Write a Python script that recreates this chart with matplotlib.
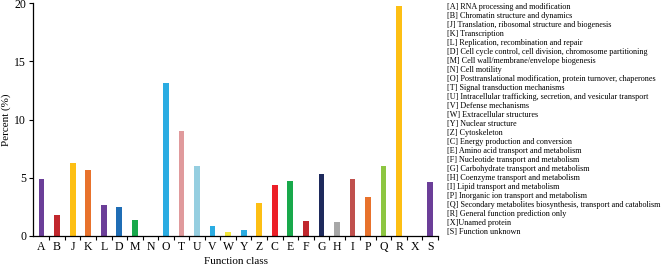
import numpy as np
import matplotlib
matplotlib.use("Agg")
import matplotlib.pyplot as plt

plt.rcParams['font.family'] = ['Liberation Serif', 'DejaVu Serif']

# ========== DATA ==========
classes = ["A", "B", "J", "K", "L", "D", "M", "N", "O", "T", "U", "V",
           "W", "Y", "Z", "C", "E", "F", "G", "H", "I", "P", "Q", "R", "X", "S"]
percent = [4.89, 1.81, 6.24, 5.66, 2.62, 2.50, 1.35, 0.0, 13.14, 9.00, 5.98, 0.81,
           0.29, 0.49, 2.82, 4.37, 4.69, 1.27, 5.32, 1.21, 4.86, 3.31, 6.03, 19.8, 0.0, 4.66]
colors = ["#6b3e98", "#c1272d", "#fdbf14", "#e8722c", "#6b3e98", "#1f6db5", "#18a94b",
          "#ffffff", "#2aace2", "#e09a9c", "#95cee0", "#2aace2", "#f4e83a", "#2aace2",
          "#fdbf14", "#ec1f27", "#18a94b", "#c1272d", "#1e2a5c", "#a7a7a7", "#c0504d",
          "#e8722c", "#8dc641", "#fdbf14", "#ffffff", "#6b3e98"]
descriptions = [
    "[A] RNA processing and modification",
    "[B] Chromatin structure and dynamics",
    "[J] Translation, ribosomal structure and biogenesis",
    "[K] Transcription",
    "[L] Replication, recombination and repair",
    "[D] Cell cycle control, cell division, chromosome partitioning",
    "[M] Cell wall/membrane/envelope biogenesis",
    "[N] Cell motility",
    "[O] Posttranslational modification, protein turnover, chaperones",
    "[T] Signal transduction mechanisms",
    "[U] Intracellular trafficking, secretion, and vesicular transport",
    "[V] Defense mechanisms",
    "[W] Extracellular structures",
    "[Y] Nuclear structure",
    "[Z] Cytoskeleton",
    "[C] Energy production and conversion",
    "[E] Amino acid transport and metabolism",
    "[F] Nucleotide transport and metabolism",
    "[G] Carbohydrate transport and metabolism",
    "[H] Coenzyme transport and metabolism",
    "[I] Lipid transport and metabolism",
    "[P] Inorganic ion transport and metabolism",
    "[Q] Secondary metabolites biosynthesis, transport and catabolism",
    "[R] General function prediction only",
    "[X]Unamed protein",
    "[S] Function unknown",
]

# ========== PLOT ==========
fig = plt.figure(figsize=(6.68, 2.74), dpi=100)
ax = fig.add_axes([0.0494, 0.1398, 0.6063, 0.848])

x = np.arange(len(classes))
ax.bar(x, percent, width=0.37, color=colors)

ax.set_xlim(-0.55, len(classes) - 0.5)
ax.set_ylim(0, 20)
ax.set_yticks([0, 5, 10, 15, 20])
ax.set_xticks(x)
ax.set_xticklabels(classes, fontsize=8.5)
ax.set_xticks(np.arange(len(classes)) + 0.5, minor=True)
ax.tick_params(axis='x', which='major', length=0, pad=4)
ax.tick_params(axis='x', which='minor', length=3, width=0.8)
ax.tick_params(axis='y', length=3, width=0.8, labelsize=8.5, pad=2)

for s in ['top', 'right']:
    ax.spines[s].set_visible(False)
for s in ['left', 'bottom']:
    ax.spines[s].set_linewidth(0.9)

ax.set_xlabel('Function class', fontsize=8, labelpad=3)
ax.set_ylabel('Percent (%)', fontsize=8, labelpad=2)

# category descriptions on the right
y0 = 1 - 7 / 274
step = 9.0 / 274
for i, d in enumerate(descriptions):
    fig.text(447 / 668, y0 - i * step, d, fontsize=5.85, va='center', ha='left')

fig.savefig('out.png', dpi=100)
